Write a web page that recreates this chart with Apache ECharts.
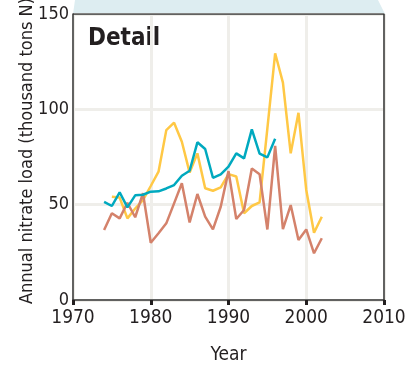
<!DOCTYPE html>
<html><head><meta charset="utf-8">
<script src="https://cdn.jsdelivr.net/npm/echarts@6/dist/echarts.min.js"></script>
<style>html,body{margin:0;padding:0;background:#fff}#c{width:409px;height:371px}</style>
</head><body><div id="c"></div>
<script>
var years = [];
for (var y = 1974; y <= 2002; y++) years.push(y);
var tealValues = [51.5, 49.3, 56.5, 48.6, 54.9, 55.2, 56.8, 57, 58.5, 60.3, 65.2, 67.8, 82.7, 79.2, 64.1, 65.9, 69.9, 76.9, 74.3, 89.5, 76.8, 74.8, 84.6];
var yellowValues = [null, 54.2, 53.7, 42.8, 48, 52.4, 59.8, 67.3, 89.1, 93, 83, 66.8, 76.9, 58.6, 57.3, 59.1, 66, 64.8, 45.5, 49.3, 51.2, 90, 129.4, 114, 76.9, 98.2, 57.7, 35.3, 43.7];
var salmonValues = [36.7, 45.5, 42.8, 51, 43.4, 56, 30, 35, 40.2, 50.7, 61.2, 40.7, 55.6, 43.7, 37, 48.9, 67.6, 42.5, 47.2, 69, 66, 37, 80.8, 37.2, 49.8, 31.5, 37, 24.5, 32.4];
var xTicks = [1970, 1980, 1990, 2000, 2010];
var yTicks = [0, 50, 100, 150];

function pairs(vals) {
  var out = [];
  for (var i = 0; i < vals.length; i++) if (vals[i] !== null) out.push([years[i], vals[i]]);
  return out;
}
var font = "'Liberation Sans Narrow', 'DejaVu Sans Condensed', 'Liberation Sans', sans-serif";
var chart = echarts.init(document.getElementById('c'), null, {renderer: 'canvas'});
chart.setOption({
  animation: false,
  backgroundColor: '#ffffff',
  grid: {left: 73, right: 25, top: 14, bottom: 71, containLabel: false, outerBoundsMode: 'none'},
  graphic: [
    {type: 'polygon', z: -10, shape: {points: [[75, 0], [378, 0], [385, 14], [73, 14]]}, style: {fill: '#ddedf1'}},
    {type: 'text', left: 88, top: 27, style: {text: 'Detail', font: 'bold 24px ' + font, fill: '#231f20'}}
  ],
  xAxis: {
    type: 'value', min: 1970, max: 2010, interval: 10,
    name: 'Year', nameLocation: 'middle', nameGap: 46,
    nameTextStyle: {fontFamily: font, fontSize: 19, color: '#231f20'},
    axisLine: {show: true, lineStyle: {color: '#333333', width: 1.5}},
    axisTick: {show: true, length: 5, lineStyle: {color: '#231f20', width: 3}},
    axisLabel: {fontFamily: font, fontSize: 19, color: '#231f20', margin: 9,
      formatter: function (v) { return xTicks.indexOf(v) >= 0 ? String(v) : ''; }},
    splitLine: {show: true, lineStyle: {color: '#efeeea', width: 3}}
  },
  yAxis: {
    type: 'value', min: 0, max: 150, interval: 50,
    name: 'Annual nitrate load (thousand tons N)', nameLocation: 'middle', nameGap: 37,
    nameMoveOverlap: false,
    nameTextStyle: {fontFamily: font, fontSize: 18, color: '#231f20', padding: [0, 0, 0, 12]},
    axisLine: {show: true, lineStyle: {color: '#333333', width: 1.5}},
    axisTick: {show: false},
    axisLabel: {fontFamily: font, fontSize: 18, color: '#231f20', margin: 4,
      formatter: function (v) { return yTicks.indexOf(v) >= 0 ? String(v) : ''; }},
    splitLine: {show: true, lineStyle: {color: '#efeeea', width: 3}}
  },
  series: [
    {type: 'line', data: pairs(yellowValues), symbol: 'none', lineStyle: {color: '#ffc845', width: 2.5}, z: 3},
    {type: 'line', data: pairs(salmonValues), symbol: 'none', lineStyle: {color: '#d4826b', width: 2.5}, z: 4},
    {type: 'line', data: pairs(tealValues), symbol: 'none', lineStyle: {color: '#00a9bf', width: 2.5}, z: 5},
    {type: 'line', data: [[2010, 0], [2010, 150], [1970, 150]], symbol: 'none', silent: true,
      lineStyle: {color: '#333333', width: 1.5}, z: 6}
  ]
});
</script></body></html>
